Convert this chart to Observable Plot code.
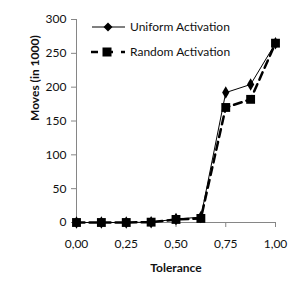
<!DOCTYPE html>
<html><head><meta charset="utf-8">
<script src="https://cdn.jsdelivr.net/npm/d3@7"></script>
<script src="https://cdn.jsdelivr.net/npm/@observablehq/plot@0.6"></script>
<style>
body{margin:0;background:#fff;}
#wrap{position:relative;width:303px;height:290px;font-family:Lato,"Open Sans",sans-serif;}
#legend{position:absolute;left:88px;top:14px;font-size:12px;color:#111;}
.row{display:flex;align-items:center;height:25px;}
.row svg{margin-right:4px;}
</style></head>
<body><div id="wrap"><div id="legend"></div></div>
<script>
const tolerance = [0, 0.125, 0.25, 0.375, 0.5, 0.625, 0.75, 0.875, 1.0];
const uniform = [0, 0, 0, 0.5, 5, 8, 192, 204, 265];
const random = [0, 0, 0, 0.5, 4.5, 6, 170, 182, 265];
const xTicks = [0, 0.25, 0.5, 0.75, 1];
const yTicks = [0, 50, 100, 150, 200, 250, 300];
const seriesNames = ["Uniform Activation", "Random Activation"];

const U = tolerance.map((t, i) => ({t, v: uniform[i]}));
const R = tolerance.map((t, i) => ({t, v: random[i]}));
const fmt = d => d3.format(".2f")(d).replace(".", ",");

const chart = Plot.plot({
  width: 303, height: 290,
  marginLeft: 76, marginRight: 28, marginTop: 19, marginBottom: 68,
  style: {fontFamily: "Lato, 'Open Sans', sans-serif", fontSize: "12px", color: "#111", background: "white"},
  x: {domain: [0, 1]},
  y: {domain: [0, 300]},
  marks: [
    Plot.ruleX([0], {y1: 0, y2: 300, stroke: "#868686"}),
    Plot.ruleY([0], {x1: 0, x2: 1, stroke: "#868686"}),
    Plot.axisY(yTicks, {tickSize: 5, stroke: "#868686", tickPadding: 5, label: null, fill: "#111"}),
    Plot.axisX(xTicks, {tickSize: 5, stroke: "#868686", tickPadding: 12, tickFormat: fmt, label: null, fill: "#111"}),
    Plot.text(["Moves (in 1000)"], {frameAnchor: "left", dx: -41, rotate: -90, fontWeight: "bold", fontSize: 12}),
    Plot.text(["Tolerance"], {frameAnchor: "bottom", dy: 49, fontWeight: "bold", fontSize: 12}),
    Plot.line(U, {x: "t", y: "v", stroke: "black", strokeWidth: 1}),
    Plot.line(R, {x: "t", y: "v", stroke: "black", strokeWidth: 2.5, strokeDasharray: "8,5"}),
    Plot.dot(U, {x: "t", y: "v", symbol: "diamond", r: 3.8, fill: "black", stroke: "none"}),
    Plot.dot(R, {x: "t", y: "v", symbol: "square", r: 5, fill: "black", stroke: "none"})
  ]
});
document.getElementById("wrap").prepend(chart);

const leg = document.getElementById("legend");
leg.innerHTML =
  `<div class="row"><svg width="38" height="12"><line x1="4" x2="37" y1="6" y2="6" stroke="black" stroke-width="1"/><path d="M20,1.5L24.5,6L20,10.5L15.5,6Z" fill="black"/></svg><span>${seriesNames[0]}</span></div>` +
  `<div class="row"><svg width="38" height="12"><line x1="3" x2="37" y1="6" y2="6" stroke="black" stroke-width="2.5" stroke-dasharray="7,8"/><rect x="14.5" y="1.5" width="9" height="9" fill="black"/></svg><span>${seriesNames[1]}</span></div>`;
</script></body></html>
